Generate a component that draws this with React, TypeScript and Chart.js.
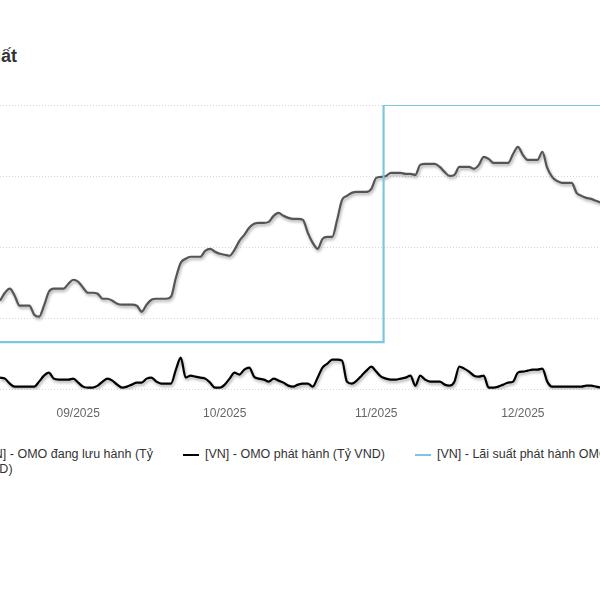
import React, { useEffect, useRef } from 'react';
import { Chart, registerables } from 'chart.js';

Chart.register(...registerables);

// ---------------- DATA ----------------
const START_DATE = '2025-08-16';
const TICK_LABELS = ['09/2025', '10/2025', '11/2025', '12/2025'];
const SERIES_NAMES = [
  '[VN] - OMO đang lưu hành (Tỷ VND)',
  '[VN] - OMO phát hành (Tỷ VND)',
  '[VN] - Lãi suất phát hành OMO (%)',
];
const TITLE = 'Diễn biến OMO và Lãi suất';

// OMO outstanding (Tỷ VND), one value per day
const OMO_OUTSTANDING = [
  124900, 136100, 141800, 131900, 117900, 117900, 117900, 105300, 102500, 117900,
  137500, 141800, 141800, 141800, 148800, 154400, 151600, 143200, 136100, 136100,
  134700, 127700, 127700, 124900, 120700, 119300, 119300, 119300, 117900, 109500,
  119300, 126300, 127700, 127700, 127700, 130500, 157200, 178200, 183900, 186700,
  186700, 186700, 195100, 197900, 193700, 190900, 189500, 188100, 196500, 209100,
  217500, 227400, 233000, 234400, 234400, 235800, 244200, 248400, 244200, 241400,
  240000, 240000, 238600, 220300, 206300, 197900, 211900, 214700, 214700, 238600,
  266700, 272300, 276500, 277900, 277900, 277900, 282100, 297500, 298900, 300300,
  304600, 304600, 304600, 303200, 303200, 301800, 315800, 317200, 317200, 317200,
  313000, 306000, 300300, 301800, 313000, 313000, 313000, 310200, 315800, 327000,
  324200, 318600, 318600, 318600, 318600, 331200, 341100, 329800, 322800, 322800,
  322800, 334000, 311600, 298900, 293300, 290500, 290500, 290500, 276500, 272300,
  269500, 268100, 265300, 262500,
];

// OMO issued (Tỷ VND), one value per day
const OMO_ISSUED = [
  16800, 15400, 8400, 4200, 4200, 4200, 4200, 4200, 11200, 19600,
  23900, 15400, 14000, 14000, 14000, 15400, 9800, 4200, 2800, 2800,
  5600, 11200, 15400, 12600, 7000, 2800, 4200, 7000, 9800, 9800,
  15400, 16800, 11200, 8400, 8400, 8400, 28100, 44900, 16800, 19600,
  18200, 16800, 15400, 9800, 2800, 2800, 7000, 15400, 23900, 21100,
  28100, 30900, 18200, 15400, 14000, 11200, 15400, 12600, 9800, 5600,
  4200, 7000, 8400, 8400, 4200, 16800, 30900, 36500, 42100, 42100,
  40700, 11200, 8400, 12600, 19600, 26700, 32300, 25300, 18200, 15400,
  14000, 14000, 15400, 16800, 19600, 5600, 19600, 14000, 11200, 11200,
  11200, 7000, 5600, 11200, 32300, 29500, 25300, 19600, 18200, 19600,
  2800, 2800, 4200, 7000, 9800, 11200, 23900, 25300, 26700, 28100,
  28100, 29500, 11200, 4200, 4200, 4200, 4200, 4200, 4200, 4200,
  5600, 5600, 4200, 2800,
];

// OMO issuing rate (%), one value per day
const OMO_RATE = [
  4.0, 4.0, 4.0, 4.0, 4.0, 4.0, 4.0, 4.0, 4.0, 4.0,
  4.0, 4.0, 4.0, 4.0, 4.0, 4.0, 4.0, 4.0, 4.0, 4.0,
  4.0, 4.0, 4.0, 4.0, 4.0, 4.0, 4.0, 4.0, 4.0, 4.0,
  4.0, 4.0, 4.0, 4.0, 4.0, 4.0, 4.0, 4.0, 4.0, 4.0,
  4.0, 4.0, 4.0, 4.0, 4.0, 4.0, 4.0, 4.0, 4.0, 4.0,
  4.0, 4.0, 4.0, 4.0, 4.0, 4.0, 4.0, 4.0, 4.0, 4.0,
  4.0, 4.0, 4.0, 4.0, 4.0, 4.0, 4.0, 4.0, 4.0, 4.0,
  4.0, 4.0, 4.0, 4.0, 4.0, 4.0, 4.0, 4.0, 4.0, 4.5,
  4.5, 4.5, 4.5, 4.5, 4.5, 4.5, 4.5, 4.5, 4.5, 4.5,
  4.5, 4.5, 4.5, 4.5, 4.5, 4.5, 4.5, 4.5, 4.5, 4.5,
  4.5, 4.5, 4.5, 4.5, 4.5, 4.5, 4.5, 4.5, 4.5, 4.5,
  4.5, 4.5, 4.5, 4.5, 4.5, 4.5, 4.5, 4.5, 4.5, 4.5,
  4.5, 4.5, 4.5, 4.5,
];

const COLORS = ['#555555', '#000000', '#7cc5e4'];

// ---------------- HELPERS ----------------
function buildDateLabels(start: string, count: number): string[] {
  const [y, m, d] = start.split('-').map(Number);
  const out: string[] = [];
  for (let i = 0; i < count; i++) {
    const dt = new Date(Date.UTC(y, m - 1, d + i));
    const mm = String(dt.getUTCMonth() + 1).padStart(2, '0');
    const dd = String(dt.getUTCDate()).padStart(2, '0');
    out.push(`${dt.getUTCFullYear()}-${mm}-${dd}`);
  }
  return out;
}

const FONT = "'Liberation Sans', Arial, Helvetica, sans-serif";

const shadowPlugin = {
  id: 'lineShadow',
  beforeDatasetDraw(chart: any, args: any) {
    const ctx = chart.ctx;
    ctx.save();
    if (args.index !== 2) {
      ctx.shadowColor = 'rgba(0,0,0,0.35)';
      ctx.shadowBlur = 3;
      ctx.shadowOffsetX = 1;
      ctx.shadowOffsetY = 2;
    }
  },
  afterDatasetDraw(chart: any) {
    chart.ctx.restore();
  },
};

function LegendItem(props: { left: number; color: string; text: string; width?: number }) {
  return (
    <div
      style={{
        position: 'absolute',
        left: props.left,
        top: 447,
        display: 'flex',
        alignItems: 'flex-start',
        whiteSpace: props.width ? 'normal' : 'nowrap',
      }}
    >
      <span
        style={{
          display: 'inline-block',
          width: 16,
          height: 2,
          marginTop: 7,
          marginRight: 6,
          background: props.color,
          flex: '0 0 auto',
        }}
      />
      <span
        style={{
          display: 'inline-block',
          width: props.width,
          fontFamily: FONT,
          fontSize: 12.5,
          lineHeight: '15px',
          color: '#333',
        }}
      >
        {props.text}
      </span>
    </div>
  );
}

export default function App() {
  const canvasRef = useRef<HTMLCanvasElement | null>(null);

  useEffect(() => {
    if (!canvasRef.current) return;
    const labels = buildDateLabels(START_DATE, OMO_OUTSTANDING.length);
    const chart = new Chart(canvasRef.current, {
      type: 'line',
      data: {
        labels,
        datasets: [
          {
            label: SERIES_NAMES[0],
            data: OMO_OUTSTANDING,
            borderColor: COLORS[0],
            borderWidth: 2.2,
            pointRadius: 0,
            cubicInterpolationMode: 'monotone',
            yAxisID: 'y',
            order: 1,
          },
          {
            label: SERIES_NAMES[1],
            data: OMO_ISSUED,
            borderColor: COLORS[1],
            borderWidth: 2.2,
            pointRadius: 0,
            cubicInterpolationMode: 'monotone',
            yAxisID: 'y',
            order: 2,
          },
          {
            label: SERIES_NAMES[2],
            data: OMO_RATE,
            borderColor: COLORS[2],
            borderWidth: 2.2,
            pointRadius: 0,
            stepped: 'middle',
            yAxisID: 'y1',
            order: 0,
          },
        ],
      },
      options: {
        animation: false,
        responsive: true,
        maintainAspectRatio: false,
        layout: { padding: { top: 10, left: 10, right: 0, bottom: 0 } },
        plugins: {
          legend: { display: false },
          title: { display: false },
          tooltip: { enabled: false },
        },
        events: [],
        scales: {
          x: {
            type: 'category',
            offset: false,
            grid: {
              display: true,
              drawOnChartArea: false,
              drawTicks: true,
              tickLength: 17,
              color: 'rgba(0,0,0,0)',
            },
            border: { display: false },
            ticks: {
              autoSkip: false,
              maxRotation: 0,
              minRotation: 0,
              padding: 0,
              color: '#666',
              font: { family: FONT, size: 12 },
              callback: (_v: any, index: number) => {
                const s = labels[index];
                if (!s) return '';
                const [yy, mm, dd] = s.split('-');
                const lab = `${mm}/${yy}`;
                return dd === '01' && TICK_LABELS.includes(lab) ? lab : '';
              },
            },
          },
          y: {
            position: 'left',
            min: 0,
            max: 400000,
            ticks: { display: false, stepSize: 100000 },
            grid: { color: '#d6d6d6', lineWidth: 1, drawTicks: false },
            border: { display: false, dash: [1, 2] },
          },
          y1: {
            position: 'right',
            display: false,
            min: 3.9,
            max: 4.5,
          },
        },
      },
      plugins: [shadowPlugin],
    } as any);
    return () => chart.destroy();
  }, []);

  return (
    <div
      style={{
        position: 'fixed',
        left: 0,
        top: 0,
        width: 600,
        height: 600,
        overflow: 'hidden',
        background: '#fff',
      }}
    >
      <div
        style={{
          position: 'absolute',
          right: 583,
          top: 46,
          whiteSpace: 'nowrap',
          fontFamily: FONT,
          fontWeight: 'bold',
          fontSize: 18,
          lineHeight: '20px',
          color: '#333',
        }}
      >
        {TITLE}
      </div>
      <div style={{ position: 'absolute', left: -10, top: 95, width: 611, height: 326 }}>
        <canvas ref={canvasRef} />
      </div>
      <LegendItem left={-40} color={COLORS[0]} text={SERIES_NAMES[0]} width={176} />
      <LegendItem left={183} color={COLORS[1]} text={SERIES_NAMES[1]} />
      <LegendItem left={415} color={COLORS[2]} text={SERIES_NAMES[2]} />
    </div>
  );
}
